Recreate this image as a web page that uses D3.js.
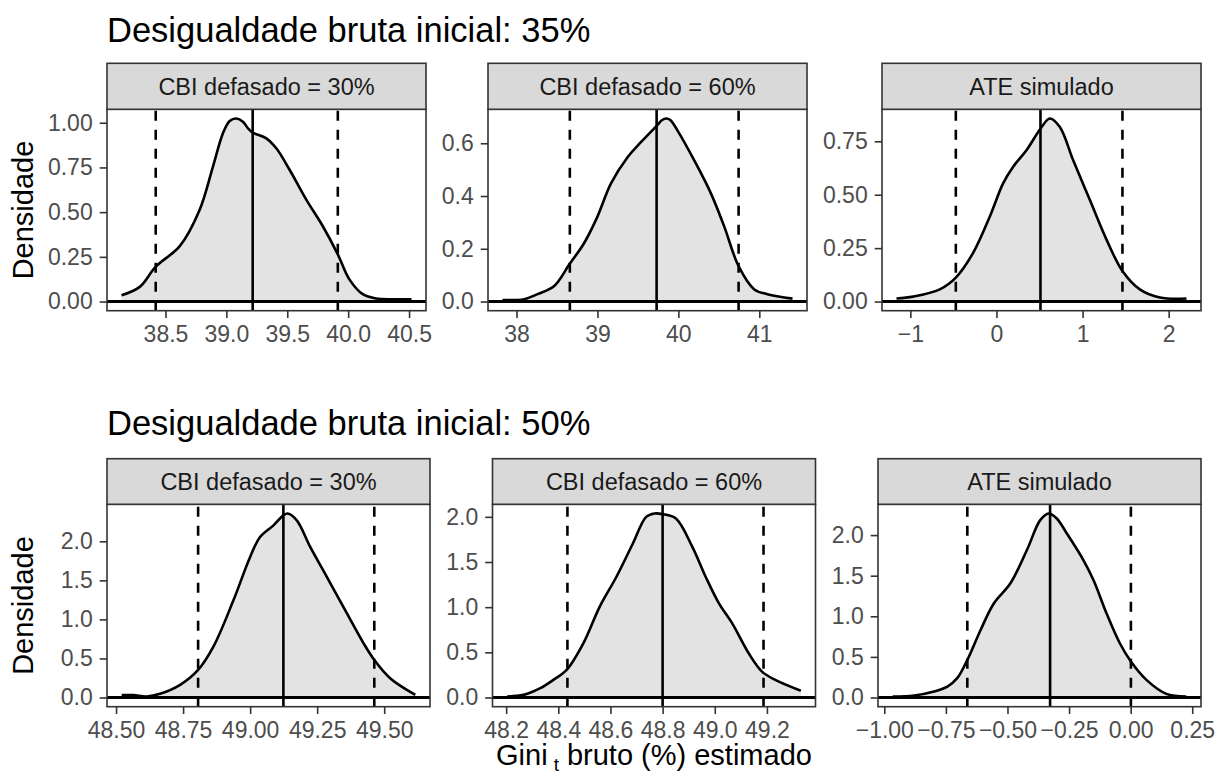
<!DOCTYPE html>
<html>
<head>
<meta charset="utf-8">
<script src="https://cdn.jsdelivr.net/npm/d3@7"></script>
<style>
  body { margin: 0; background: #ffffff; }
  svg { display: block; }
  text { font-family: "Liberation Sans", Arial, Helvetica, sans-serif; }
</style>
</head>
<body>
<svg id="chart" width="1217" height="776"></svg>
<script>
// ---- data ---------------------------------------------------------------
const rowTitles = ["Desigualdade bruta inicial: 35%", "Desigualdade bruta inicial: 50%"];
const facetLabels = ["CBI defasado = 30%", "CBI defasado = 60%", "ATE simulado"];
const yAxisTitle = "Densidade";

// density estimates: [value, density]
const dens35Cbi30 = [[38.139,0.035],[38.289,0.082],[38.42,0.195],[38.617,0.31],[38.781,0.514],[38.89,0.755],[38.972,0.941],[39.027,1.01],[39.082,1.024],[39.136,1.006],[39.177,0.969],[39.216,0.945],[39.328,0.913],[39.41,0.857],[39.519,0.737],[39.656,0.570],[39.792,0.421],[39.915,0.264],[40.01,0.124],[40.12,0.041],[40.23,0.017],[40.366,0.013],[40.52,0.013]];
const dens35Cbi60 = [[37.827,0.006],[38.095,0.009],[38.26,0.028],[38.466,0.059],[38.651,0.14],[38.836,0.222],[39.0,0.322],[39.166,0.447],[39.372,0.547],[39.537,0.604],[39.731,0.666],[39.80,0.688],[39.85,0.694],[39.90,0.688],[39.99,0.648],[40.196,0.535],[40.402,0.41],[40.567,0.284],[40.744,0.134],[40.938,0.046],[41.1,0.028],[41.41,0.011]];
const dens35Ate = [[-1.161,0.014],[-0.968,0.023],[-0.658,0.057],[-0.472,0.112],[-0.271,0.228],[-0.077,0.398],[0.077,0.553],[0.194,0.631],[0.348,0.708],[0.511,0.809],[0.619,0.857],[0.736,0.817],[0.89,0.662],[1.084,0.476],[1.278,0.29],[1.463,0.143],[1.665,0.057],[1.897,0.019],[2.207,0.014]];
const dens50Cbi30 = [[48.521,0.03],[48.565,0.03],[48.614,0.013],[48.664,0.047],[48.739,0.162],[48.806,0.353],[48.863,0.651],[48.938,1.247],[49.0,1.8],[49.037,2.055],[49.087,2.204],[49.124,2.332],[49.140,2.356],[49.174,2.268],[49.224,1.928],[49.286,1.545],[49.361,1.077],[49.423,0.694],[49.463,0.481],[49.522,0.247],[49.616,0.034]];
const dens50Cbi60 = [[48.204,0.011],[48.267,0.029],[48.331,0.103],[48.381,0.195],[48.432,0.306],[48.496,0.6],[48.559,1.006],[48.623,1.337],[48.686,1.705],[48.737,2.0],[48.769,2.037],[48.8,2.03],[48.851,1.982],[48.914,1.668],[48.965,1.337],[49.016,1.042],[49.067,0.821],[49.13,0.49],[49.181,0.287],[49.232,0.195],[49.33,0.075]];
const dens50Ate = [[-0.966,0.012],[-0.879,0.025],[-0.798,0.074],[-0.744,0.135],[-0.704,0.238],[-0.663,0.463],[-0.609,0.832],[-0.555,1.16],[-0.488,1.406],[-0.421,1.816],[-0.367,2.184],[-0.333,2.266],[-0.3,2.205],[-0.259,2.02],[-0.192,1.693],[-0.151,1.447],[-0.098,1.037],[-0.044,0.668],[0.001,0.443],[0.064,0.217],[0.145,0.045],[0.226,0.012]];

// reference lines: [lower bound, central estimate, upper bound]
const ref35Cbi30 = [38.42, 39.216, 39.915];
const ref35Cbi60 = [38.659, 39.731, 40.744];
const ref35Ate   = [-0.472, 0.511, 1.463];
const ref50Cbi30 = [48.806, 49.124, 49.463];
const ref50Cbi60 = [48.435, 48.8, 49.187];
const ref50Ate   = [-0.663, -0.327, 0.001];

// tick values
const xTicks35Cbi30 = [38.5, 39, 39.5, 40, 40.5];
const xTicks35Cbi60 = [38, 39, 40, 41];
const xTicks35Ate   = [-1, 0, 1, 2];
const xTicks50Cbi30 = [48.5, 48.75, 49, 49.25, 49.5];
const xTicks50Cbi60 = [48.2, 48.4, 48.6, 48.8, 49.0, 49.2];
const xTicks50Ate   = [-1, -0.75, -0.5, -0.25, 0, 0.25];
const yTicks35Cbi30 = [0, 0.25, 0.5, 0.75, 1];
const yTicks35Cbi60 = [0, 0.2, 0.4, 0.6];
const yTicks35Ate   = [0, 0.25, 0.5, 0.75];
const yTicks50      = [0, 0.5, 1, 1.5, 2];

// ---- layout -------------------------------------------------------------
const svg = d3.select("#chart");
const FONT_TICK = 23, FONT_STRIP = 23.5, FONT_TITLE = 34.5, FONT_AXIS = 29;
const DARK = "#333333";

const rows = [
  { title: rowTitles[0], titleY: 41.7, stripTop: 63.3, panelTop: 109.3, panelBottom: 310.7,
    panels: [
      { x0: 107, x1: 426, dens: dens35Cbi30, ref: ref35Cbi30, xt: xTicks35Cbi30, xf: ".1f", yt: yTicks35Cbi30, yf: ".2f" },
      { x0: 488, x1: 807, dens: dens35Cbi60, ref: ref35Cbi60, xt: xTicks35Cbi60, xf: "d",   yt: yTicks35Cbi60, yf: ".1f" },
      { x0: 882, x1: 1201, dens: dens35Ate,  ref: ref35Ate,   xt: xTicks35Ate,   xf: "d",   yt: yTicks35Ate,   yf: ".2f" }
    ] },
  { title: rowTitles[1], titleY: 435, stripTop: 458.7, panelTop: 504.3, panelBottom: 706.7,
    panels: [
      { x0: 107, x1: 430, dens: dens50Cbi30, ref: ref50Cbi30, xt: xTicks50Cbi30, xf: ".2f", yt: yTicks50, yf: ".1f" },
      { x0: 492.5, x1: 815.5, dens: dens50Cbi60, ref: ref50Cbi60, xt: xTicks50Cbi60, xf: ".1f", yt: yTicks50, yf: ".1f" },
      { x0: 878, x1: 1201, dens: dens50Ate,  ref: ref50Ate,   xt: xTicks50Ate,   xf: ".2f", yt: yTicks50, yf: ".1f" }
    ] }
];

// ggplot-style 5% expansion of a continuous range
function expand(lo, hi) { const d = (hi - lo) * 0.05; return [lo - d, hi + d]; }

let clipId = 0;
rows.forEach(row => {
  // row title
  svg.append("text")
    .attr("x", row.panels[0].x0).attr("y", row.titleY)
    .attr("font-size", FONT_TITLE).attr("fill", "#000")
    .text(row.title);

  // y axis title
  const cy = (row.panelTop + row.panelBottom) / 2;
  svg.append("text")
    .attr("transform", `translate(33.3,${cy}) rotate(-90)`)
    .attr("text-anchor", "middle")
    .attr("font-size", FONT_AXIS).attr("fill", "#000")
    .text(yAxisTitle);

  row.panels.forEach((p, i) => {
    const xs = p.dens.map(d => d[0]);
    const ymax = d3.max(p.dens, d => d[1]);
    const x = d3.scaleLinear().domain(expand(d3.min(xs), d3.max(xs))).range([p.x0, p.x1]);
    const y = d3.scaleLinear().domain(expand(0, ymax)).range([row.panelBottom, row.panelTop]);
    const g = svg.append("g");

    const cid = "clip" + (clipId++);
    svg.append("clipPath").attr("id", cid)
      .append("rect").attr("x", p.x0).attr("y", row.panelTop)
      .attr("width", p.x1 - p.x0).attr("height", row.panelBottom - row.panelTop);
    const plot = g.append("g").attr("clip-path", `url(#${cid})`);

    const curve = d3.curveCatmullRom.alpha(0.5);
    plot.append("path")
      .datum(p.dens)
      .attr("d", d3.area().x(d => x(d[0])).y0(y(0)).y1(d => y(d[1])).curve(curve))
      .attr("fill", "#E3E3E3");
    plot.append("path")
      .datum(p.dens)
      .attr("d", d3.line().x(d => x(d[0])).y(d => y(d[1])).curve(curve))
      .attr("fill", "none").attr("stroke", "#000").attr("stroke-width", 2.6)
      .attr("stroke-linejoin", "round");

    // reference lines (drawn bottom to top)
    p.ref.forEach((v, k) => {
      plot.append("line")
        .attr("x1", x(v)).attr("x2", x(v))
        .attr("y1", row.panelBottom).attr("y2", row.panelTop)
        .attr("stroke", "#000").attr("stroke-width", 2.6)
        .attr("stroke-dasharray", k === 1 ? null : "10,9");
    });
    // zero line
    plot.append("line")
      .attr("x1", p.x0).attr("x2", p.x1)
      .attr("y1", y(0)).attr("y2", y(0))
      .attr("stroke", "#000").attr("stroke-width", 3);

    // panel border
    g.append("rect")
      .attr("x", p.x0).attr("y", row.panelTop)
      .attr("width", p.x1 - p.x0).attr("height", row.panelBottom - row.panelTop)
      .attr("fill", "none").attr("stroke", DARK).attr("stroke-width", 1.6);

    // strip
    g.append("rect")
      .attr("x", p.x0).attr("y", row.stripTop)
      .attr("width", p.x1 - p.x0).attr("height", row.panelTop - row.stripTop)
      .attr("fill", "#D9D9D9").attr("stroke", DARK).attr("stroke-width", 1.6);
    g.append("text")
      .attr("x", (p.x0 + p.x1) / 2)
      .attr("y", (row.stripTop + row.panelTop) / 2 + 0.358 * FONT_STRIP)
      .attr("text-anchor", "middle")
      .attr("font-size", FONT_STRIP).attr("fill", "#1A1A1A")
      .text(facetLabels[i]);

    // axes
    const xAxis = g.append("g")
      .attr("transform", `translate(0,${row.panelBottom})`)
      .call(d3.axisBottom(x).tickValues(p.xt).tickFormat(d3.format(p.xf)).tickSize(7.3).tickPadding(7.2));
    const yAxis = g.append("g")
      .attr("transform", `translate(${p.x0},0)`)
      .call(d3.axisLeft(y).tickValues(p.yt).tickFormat(d3.format(p.yf)).tickSize(7.3).tickPadding(7));
    [xAxis, yAxis].forEach(a => {
      a.select(".domain").remove();
      a.selectAll(".tick line").attr("stroke", DARK).attr("stroke-width", 1.6);
      a.selectAll(".tick text")
        .attr("fill", "#4D4D4D").attr("font-size", FONT_TICK)
        .attr("font-family", "'Liberation Sans', Arial, Helvetica, sans-serif");
    });
  });
});

// x axis title with subscript
const xTitle = svg.append("text")
  .attr("x", (rows[1].panels[0].x0 + rows[1].panels[2].x1) / 2)
  .attr("y", 765)
  .attr("text-anchor", "middle")
  .attr("font-size", FONT_AXIS).attr("fill", "#000");
xTitle.append("tspan").text("Gini");
xTitle.append("tspan").attr("dx", 6).attr("dy", 6).attr("font-size", 19).text("t");
xTitle.append("tspan").attr("dx", 8).attr("dy", -6).text("bruto (%) estimado");
</script>
</body>
</html>
